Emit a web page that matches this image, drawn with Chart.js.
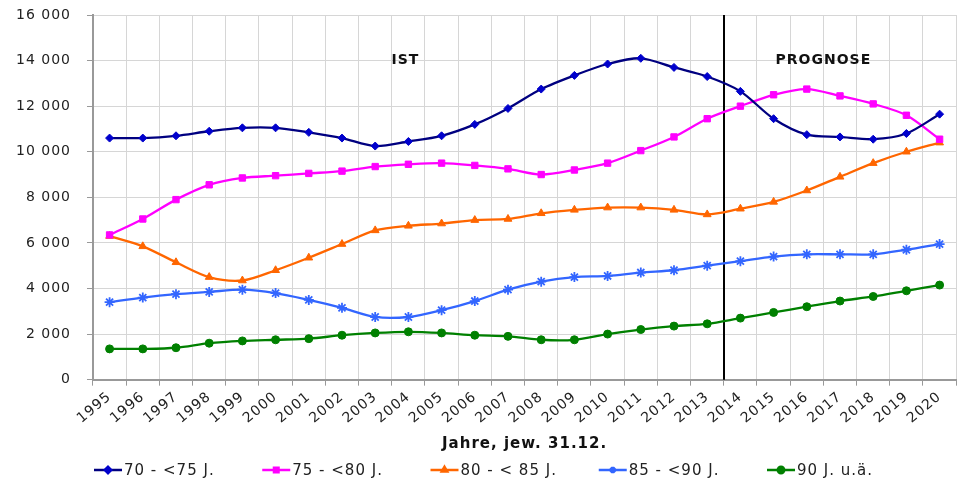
<!DOCTYPE html>
<html>
<head>
<meta charset="utf-8">
<script src="https://cdn.jsdelivr.net/npm/chart.js@4/dist/chart.umd.min.js"></script>
<style>
  html, body { margin: 0; padding: 0; background: #fff; }
  #wrap { width: 963px; height: 479px; }
</style>
</head>
<body>
<div id="wrap"><canvas id="c" width="963" height="479"></canvas></div>
<script>
// Jahre (Stichtag jeweils 31.12.)
const years = ['1995','1996','1997','1998','1999','2000','2001','2002','2003','2004','2005','2006','2007',
               '2008','2009','2010','2011','2012','2013','2014','2015','2016','2017','2018','2019','2020'];

// Einwohner je Altersgruppe
const age70to75 = [10600,10600,10700,10900,11050,11050,10850,10600,10250,10450,10700,11200,11900,
                   12750,13350,13850,14100,13700,13300,12650,11450,10750,10650,10550,10800,11650];
const age75to80 = [6350,7050,7900,8550,8850,8950,9050,9150,9350,9450,9500,9400,9250,
                   9000,9200,9500,10050,10650,11450,12000,12500,12750,12450,12100,11600,10550];
const age80to85 = [6300,5850,5150,4500,4350,4800,5350,5950,6550,6750,6850,7000,7050,
                   7300,7450,7550,7550,7450,7250,7500,7800,8300,8900,9500,10000,10400];
const age85to90 = [3400,3600,3750,3850,3950,3800,3500,3150,2750,2750,3050,3450,3950,
                   4300,4500,4550,4700,4800,5000,5200,5400,5500,5500,5500,5700,5950];
const age90plus = [1350,1350,1400,1600,1700,1750,1800,1950,2050,2100,2050,1950,1900,
                   1750,1750,2000,2200,2350,2450,2700,2950,3200,3450,3650,3900,4150];

const seriesNames = ['70 - <75 J.', '75 - <80 J.', '80 - < 85 J.', '85 - <90 J.', '90 J. u.ä.'];

// Beginn der Prognose: erstes Prognosejahr
const firstForecastYear = '2014';
const periodLabels = ['IST', 'PROGNOSE'];

const FONT = '"DejaVu Sans", Verdana, sans-serif';

function fmt(v) {
  return String(v).replace(/\B(?=(\d{3})+(?!\d))/g, ' ');
}

// etwas gesperrte Schrift für alle Beschriftungen
const spacingPlugin = {
  id: 'spacing',
  beforeUpdate(chart) { chart.ctx.letterSpacing = '1px'; },
  beforeLayout(chart) { chart.ctx.letterSpacing = '1px'; },
  beforeDraw(chart) { chart.ctx.letterSpacing = '1px'; }
};

// Trennlinie IST / PROGNOSE und Bereichsbeschriftungen
const periodPlugin = {
  id: 'periods',
  beforeDatasetsDraw(chart) {
    const { ctx, chartArea, scales } = chart;
    const x = scales.x, y = scales.y;
    const idx = years.indexOf(firstForecastYear);
    const xs = (x.getPixelForValue(idx - 1) + x.getPixelForValue(idx)) / 2;
    ctx.save();
    ctx.strokeStyle = '#000';
    ctx.lineWidth = 2;
    ctx.beginPath();
    ctx.moveTo(Math.round(xs), chartArea.top);
    ctx.lineTo(Math.round(xs), chartArea.bottom);
    ctx.stroke();

    ctx.fillStyle = '#111';
    ctx.font = 'bold 14px ' + FONT;
    ctx.textAlign = 'center';
    ctx.textBaseline = 'middle';
    const yText = y.getPixelForValue(14000);
    ctx.fillText(periodLabels[0], x.getPixelForValue(years.indexOf('2004')) - 3, yText);
    const xp = (x.getPixelForValue(years.indexOf('2016')) + x.getPixelForValue(years.indexOf('2017'))) / 2;
    ctx.fillText(periodLabels[1], xp, yText);
    ctx.restore();
  }
};

// Legende: kurze Linie mit Markierung, danach der Name
const legendPlugin = {
  id: 'lineLegend',
  afterDraw(chart) {
    const { ctx } = chart;
    const yMid = 470;
    const startX = 94, step = 168.25, lineLen = 28;
    ctx.save();
    ctx.font = '15px ' + FONT;
    ctx.textBaseline = 'middle';
    ctx.textAlign = 'left';
    chart.data.datasets.forEach((ds, i) => {
      const x0 = startX + i * step;
      ctx.strokeStyle = ds.borderColor;
      ctx.lineWidth = 2.5;
      ctx.beginPath();
      ctx.moveTo(x0, yMid);
      ctx.lineTo(x0 + lineLen, yMid);
      ctx.stroke();
      ctx.fillStyle = ds.pointBackgroundColor;
      ctx.strokeStyle = ds.pointBorderColor;
      Chart.helpers.drawPoint(ctx, {
        pointStyle: ds.pointStyle,
        radius: 3.2,
        borderWidth: 1
      }, x0 + lineLen / 2, yMid);
      ctx.fillStyle = '#222';
      ctx.fillText(ds.label, x0 + lineLen + 2, yMid + 1.5);
    });
    ctx.restore();
  }
};

function series(label, data, line, marker, style, radius, bw) {
  return {
    label, data,
    borderColor: line,
    backgroundColor: line,
    borderWidth: 2.3,
    pointStyle: style,
    pointRadius: radius,
    pointHoverRadius: radius,
    pointBackgroundColor: marker,
    pointBorderColor: marker,
    pointBorderWidth: bw,
    tension: 0.3,
    fill: false
  };
}

new Chart(document.getElementById('c'), {
  type: 'line',
  data: {
    labels: years,
    datasets: [
      series(seriesNames[0], age70to75, '#000080', '#0000CC', 'rectRot', 4, 1),
      series(seriesNames[1], age75to80, '#FF00FF', '#FF00FF', 'rect', 4.5, 1),
      series(seriesNames[2], age80to85, '#FF6600', '#FF6600', 'triangle', 4.5, 1),
      series(seriesNames[3], age85to90, '#3366FF', '#3366FF', 'star', 5, 1.8),
      series(seriesNames[4], age90plus, '#008000', '#008000', 'circle', 4, 1)
    ]
  },
  options: {
    responsive: false,
    animation: false,
    devicePixelRatio: 1,
    layout: { padding: { top: 15, right: 0, left: 0, bottom: 26 } },
    plugins: {
      legend: { display: false },
      tooltip: { enabled: false }
    },
    scales: {
      x: {
        type: 'category',
        offset: true,
        afterFit(scale) { scale.paddingLeft = 0; scale.paddingRight = 0; },
        grid: { offset: true, color: '#d6d6d6', lineWidth: 1, tickLength: 6, tickColor: '#999' },
        border: { color: '#999', width: 2 },
        ticks: {
          color: '#222',
          font: { family: FONT, size: 14 },
          minRotation: 40,
          maxRotation: 40,
          autoSkip: false,
          padding: 3
        },
        title: {
          display: true,
          text: 'Jahre, jew. 31.12.',
          color: '#111',
          font: { family: FONT, size: 15, weight: 'bold' },
          padding: { top: 5, bottom: 0 }
        }
      },
      y: {
        min: 0,
        max: 16000,
        afterFit(scale) { scale.paddingTop = 0; scale.paddingBottom = 0; },
        grid: { color: '#d6d6d6', lineWidth: 1, tickLength: 6, tickColor: '#999' },
        border: { color: '#999', width: 2 },
        ticks: {
          stepSize: 2000,
          color: '#222',
          font: { family: FONT, size: 14 },
          padding: 16,
          callback: (v) => fmt(v)
        }
      }
    }
  },
  plugins: [spacingPlugin, periodPlugin, legendPlugin]
});
</script>
</body>
</html>
